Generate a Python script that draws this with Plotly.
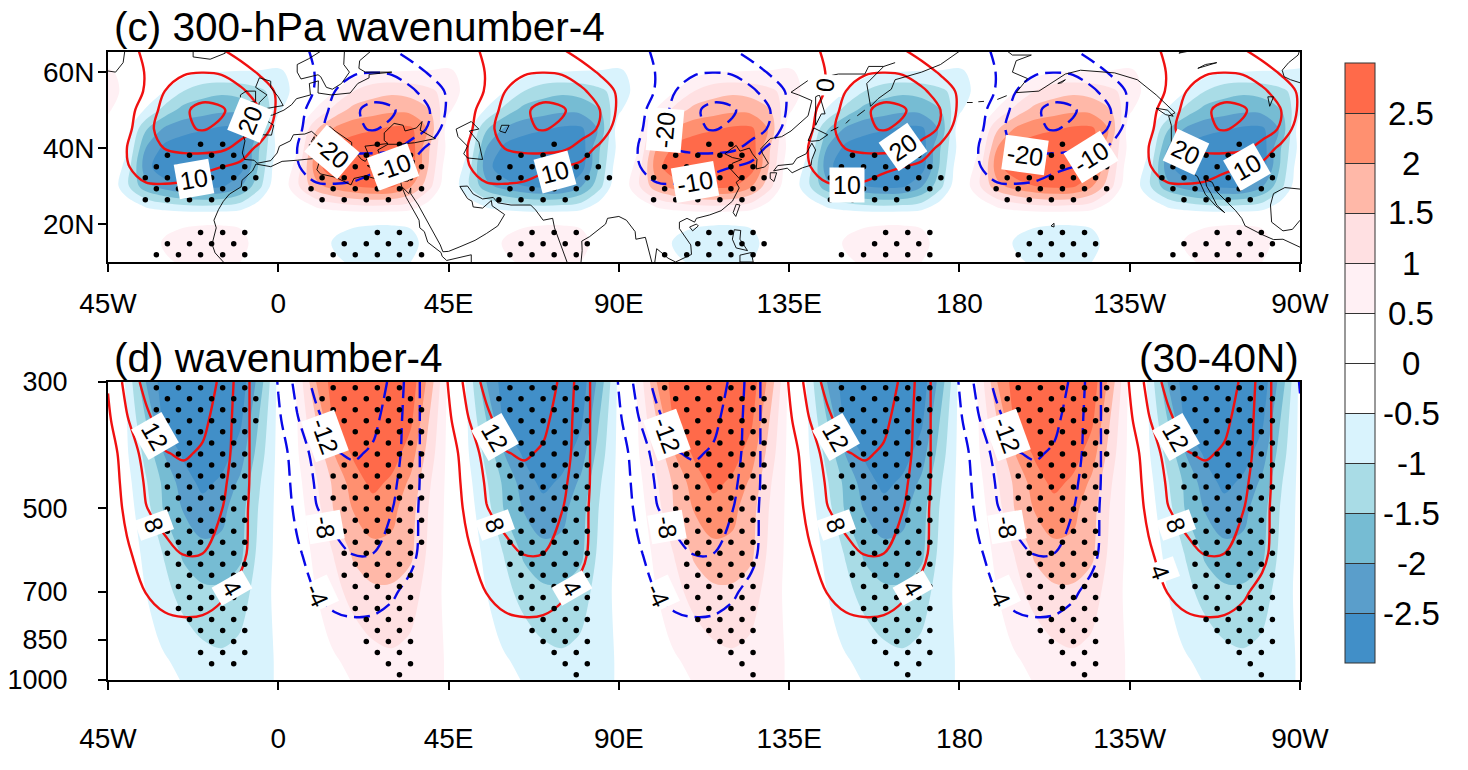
import numpy as np
import plotly.graph_objects as go

# page offset of the browser body and drawing size
OFF = 8
W = 1452
H = 754

# shading / line tables hold one half wave (lon -45..-5), next half wave is the sign flip
half_lons = [-45, -40, -35, -30, -25, -20, -15, -10, -5]
lats = [10, 15, 20, 25, 30, 35, 40, 45, 50, 55, 60, 66]
levs = [300, 350, 400, 450, 500, 600, 700, 850, 925, 1000]
line_levs = [300, 350, 400, 450, 500, 600, 700, 850, 1000]

shade_c = [
    [0, 0, .2, .45, .55, .6, .6, .5, .2],
    [0, .1, .3, .55, .7, .75, .75, .65, .3],
    [0, 0, .2, .4, .45, .48, .48, .45, .2],
    [0, -.2, -.6, -.85, -1.0, -1.05, -1.0, -.85, -.3],
    [0, -.9, -1.85, -2.25, -2.5, -2.65, -2.6, -2.05, -1.15],
    [.1, -.7, -2.3, -2.9, -3, -3, -2.95, -2.75, -1.4],
    [.3, -.45, -2.0, -2.65, -2.9, -3, -3, -2.8, -1.5],
    [.15, -.3, -1.45, -2.1, -2.3, -2.45, -2.6, -2.6, -1.9],
    [.6, 0, -.55, -1.2, -1.7, -1.8, -1.9, -1.85, -1.5],
    [.8, .3, -.2, -.5, -1.0, -1.3, -1.4, -1.3, -1.1],
    [.6, .3, 0, -.1, -.3, -.5, -.52, -.55, -.55],
    [0, 0, .1, .2, .4, .55, .55, .3, .1],
]
lines_c = [
    [0, 0, 0, 0, 0, 0, 0, 0, 0],
    [0, 0, 0, 0, 0, 0, 0, 0, 0],
    [0, 0, 0, 0, 0, 0, 0, 0, 0],
    [0, 0, 0, 0, 0, 0, 0, 0, 0],
    [0, 1, 9.3, 9.5, 9, 6, 2, 0, 0],
    [0, 9.5, 13, 13.5, 13, 12, 10, 7, 2],
    [0, 10, 16, 20.3, 22.5, 23, 22, 17, 7],
    [-3, 7.5, 17, 24, 29, 30.5, 28.5, 24, 19],
    [-8, 6.5, 14.5, 23, 29, 32, 31, 26, 20],
    [-8.5, 4, 11, 20, 25, 27, 26, 22, 15],
    [-3, 5, 10.5, 15, 19, 19.8, 19, 14, 9],
    [0, 7, 12, 14, 14, 13, 10.3, 6, 2],
]
shade_d = [
    [.35, -.6, -2.0, -2.8, -3, -3.1, -3.1, -2.8, -1.8],
    [.35, -.5, -1.5, -2.65, -2.85, -2.95, -2.95, -2.6, -1.45],
    [.35, -.45, -1.15, -2.05, -2.6, -2.85, -2.75, -2.25, -1.25],
    [.35, -.35, -.95, -1.65, -2.25, -2.65, -2.4, -1.9, -1.05],
    [.35, -.3, -.8, -1.58, -2.05, -2.3, -2.15, -1.7, -.95],
    [.35, -.2, -.62, -1.05, -1.6, -1.85, -1.85, -1.6, -.85],
    [.35, -.1, -.5, -.85, -1.2, -1.4, -1.4, -1.25, -.75],
    [.4, 0, -.3, -.6, -.8, -1.0, -1.1, -.95, -.75],
    [.42, 0, -.2, -.45, -.65, -.8, -.85, -.8, -.75],
    [.42, 0, -.05, -.3, -.55, -.7, -.75, -.75, -.75],
]
lines_d = [
    [4.3, 9.3, 13.3, 16, 17, 15, 11, 6.3, 1.5],
    [3.3, 7.7, 11, 14, 15, 13, 10, 6.3, 1.5],
    [2.5, 5.5, 9.5, 11.8, 12.5, 11.5, 9.5, 6.3, 1.5],
    [2, 5.2, 8.4, 10, 10.5, 10, 8.7, 6.2, 1.5],
    [1.6, 4.8, 7.9, 9, 9.5, 9, 8.1, 5.8, 1.3],
    [1, 3.5, 5.5, 7.3, 8.1, 8, 6.8, 5.2, 1.5],
    [.5, 1.8, 4.1, 5.5, 6, 5.8, 4.6, 2.8, .8],
    [0, .5, 1.2, 2, 2.2, 2.1, 1.8, 1, .3],
    [0, .2, .5, .8, 1, 1, .8, .5, .2],
]

band_colors = ['#418fc8', '#5a9ecb', '#76bcd3', '#a9dce6', '#d9f3fd', '#ffffff',
               '#ffffff', '#fff0f4', '#ffe0e2', '#ffb8a8', '#ff9070', '#ff6a4a']
bar_ticks = [-2.5, -2, -1.5, -1, -0.5, 0, 0.5, 1, 1.5, 2, 2.5]
bar_labels = ['-2.5', '-2', '-1.5', '-1', '-0.5', '0', '0.5', '1', '1.5', '2', '2.5']

lon_ticks = [-45, 0, 45, 90, 135, 180, 225, 270]
lon_labels = ['45W', '0', '45E', '90E', '135E', '180', '135W', '90W']
lat_ticks = [20, 40, 60]
lat_labels = ['20N', '40N', '60N']
p_ticks = [300, 500, 700, 850, 1000]
p_labels = ['300', '500', '700', '850', '1000']

# stippling: lattice column runs per row (every second column is a dot)
dots_c = {
    41.0: [(5, 7), (21, 23), (37, 37), (51, 53), (67, 67), (83, 83), (99, 99)],
    38.1: [(2, 8), (20, 24), (34, 40), (48, 54), (64, 70), (82, 84), (94, 102)],
    35.1: [(1, 9), (19, 25), (33, 41), (47, 55), (63, 71), (79, 87), (93, 101)],
    32.2: [(0, 10), (16, 24), (32, 42), (46, 56), (62, 72), (78, 86), (92, 102)],
    29.3: [(1, 9), (15, 25), (33, 39), (47, 55), (63, 71), (77, 87), (93, 101)],
    26.4: [(0, 6), (16, 22), (32, 38), (46, 54), (62, 68), (78, 84), (94, 100)],
    17.8: [(5, 9), (21, 23), (35, 39), (51, 55), (67, 71), (81, 85), (97, 101)],
    14.8: [(2, 8), (18, 24), (34, 40), (50, 56), (66, 70), (80, 86), (94, 102)],
    11.9: [(1, 9), (17, 25), (33, 39), (47, 55), (63, 71), (79, 85), (93, 101)],
}
# panel d: one list per lobe, one (first, last) column run per row from 300 hPa downward
dots_d_blue1 = [(1, 9), (2, 10), (1, 9), (2, 10), (3, 9), (4, 8), (3, 9), (2, 8), (3, 9),
                (2, 8), (3, 9), (2, 8), (3, 9), (2, 8), (3, 9), (2, 8), (3, 9), (4, 8),
                (3, 9), (4, 8), (3, 9), (4, 8), (5, 9), (6, 8), (5, 9), (6, 8)]
dots_d_red1 = [(17, 23), (16, 24), (17, 25), (18, 24), (19, 25), (20, 24), (19, 25), (18, 24),
               (17, 25), (18, 24), (17, 25), (18, 24), (19, 25), (18, 24), (19, 25), (18, 24),
               (19, 23), (18, 24), (19, 23), (20, 24), (19, 23), (20, 24), (21, 23), (20, 24),
               (21, 23), (22, 24), (23, 23)]
dots_d_blue2 = [(33, 39), (32, 40), (33, 39), (34, 40), (35, 39), (34, 40), (35, 39), (32, 40), (33, 39),
                (34, 40), (33, 39), (34, 40), (35, 39), (34, 40), (33, 39), (34, 40), (33, 39), (34, 40),
                (35, 39), (34, 40), (35, 39), (36, 40), (35, 39), (36, 40), (37, 39), (38, 40), (39, 39)]
dots_d_red2 = [(47, 55), (48, 56), (49, 55), (48, 56), (49, 55), (50, 56), (49, 55), (48, 56), (49, 55),
               (48, 56), (49, 55), (48, 54), (49, 55), (50, 54), (49, 55), (50, 54), (49, 55), (50, 54),
               (49, 55), (50, 54), (51, 55), (50, 54), (51, 55), (52, 54), (53, 55), (54, 54), (55, 55)]
dots_d_blue3 = [(63, 71), (64, 70), (63, 71), (64, 70), (65, 71), (64, 70), (65, 71), (64, 70), (63, 71),
                (64, 70), (65, 71), (64, 70), (65, 71), (64, 70), (65, 71), (64, 70), (65, 71), (64, 70),
                (65, 71), (66, 70), (65, 71), (66, 70), (67, 71), (66, 70), (67, 71), (68, 70), (69, 69)]
dots_d_red3 = [(79, 87), (78, 86), (79, 87), (80, 86), (81, 87), (82, 86), (81, 87), (80, 86), (79, 85),
               (80, 86), (79, 85), (80, 86), (81, 85), (80, 86), (81, 85), (80, 86), (81, 85), (80, 86),
               (81, 85), (80, 86), (81, 85), (82, 86), (81, 85), (82, 86), (83, 85), (84, 86), (85, 85)]
dots_d_blue4 = [(93, 101), (94, 102), (95, 101), (96, 102), (95, 101), (96, 102), (95, 101), (94, 102), (95, 101),
                (94, 102), (95, 101), (96, 102), (95, 101), (96, 102), (95, 101), (96, 102), (95, 101), (96, 102),
                (95, 101), (96, 102), (97, 101), (96, 102), (97, 101), (98, 102), (99, 101), (100, 100), (101, 101)]
dots_d = [dots_d_blue1, dots_d_red1, dots_d_blue2, dots_d_red2, dots_d_blue3, dots_d_red3, dots_d_blue4]

# coastlines, read by eye, lon runs -45..270
coast_greenland = [(-45, 60.3), (-43, 60), (-41, 62.5), (-40.5, 66)]
coast_iceland = [(-22.5, 66), (-22.5, 64), (-18, 63.4), (-14, 65), (-14.5, 66)]
coast_africa = [(-14.5, 10), (-16.7, 12.4), (-17.5, 14.7), (-16.4, 19), (-17, 21), (-15.8, 23.8), (-14.5, 26),
                (-12.9, 27.9), (-9.8, 29.8), (-9.6, 31.5), (-6.8, 34), (-5.9, 35.8), (-2, 35.1), (1, 36.5), (5, 36.8),
                (10, 37.3), (11, 36.9), (10.2, 34.3), (11.1, 33.2), (15.2, 32.3), (19.2, 30.3), (20, 32), (23, 32.7),
                (29, 31), (32.3, 31.3), (32.6, 29.9), (33.8, 27), (35.5, 24), (37.2, 21), (37.4, 19), (38.6, 18),
                (39.5, 15.2), (43, 12.5), (43.3, 11.5), (44.5, 10.4), (51, 11.9), (51, 10)]
coast_iberia_north = [(-5.6, 36), (-6.4, 36.8), (-8.9, 37), (-9.5, 38.7), (-8.8, 41.9), (-9.2, 43.1), (-8, 43.7),
                      (-1.8, 43.4), (-1.2, 46), (-4.7, 48.3), (-1.5, 48.7), (1.5, 50), (3.5, 51.4), (4.8, 53), (8.5, 54),
                      (8.2, 57), (10.6, 57.7), (10.5, 54.5), (14, 54), (19, 54.5), (21, 57), (24, 58.5), (24, 59.4),
                      (30, 60), (23, 60), (21.3, 61), (21.5, 63), (25, 66)]
coast_scandinavia = [(17.5, 66), (17.3, 62), (18.8, 60), (16.7, 57), (14.3, 55.5), (12.7, 56), (11.2, 58.8), (10.5, 59.3),
                     (6, 58.2), (5, 60), (5, 62), (8, 63.5), (12, 66)]
coast_med_north = [(-5.6, 36), (-2, 36.7), (-0.3, 38.7), (0.3, 40.5), (3.2, 41.9), (4, 43.5), (7, 43.7), (8.8, 44.4),
                   (10.5, 42.9), (12.3, 41.7), (15.6, 40), (16, 38), (17, 39), (16.5, 40), (18.4, 40), (16, 41.8),
                   (13.5, 43.6), (12.4, 45.3), (13.7, 45.6), (15, 44.5), (19.4, 41.5), (19.4, 40), (22, 37), (23, 36.5),
                   (24, 38), (22.9, 40.5), (26, 40.8), (29, 41.2), (28, 42), (28, 44), (30.6, 46.5), (33, 46), (33.5, 44.5),
                   (36.5, 45.3), (38, 47), (37.5, 44.7), (41.5, 42.5), (36, 41.4), (31.5, 41), (29, 41), (26.3, 39.5),
                   (27.3, 37), (30.5, 36.5), (36, 36.7), (35.8, 35), (35, 32.5), (34.3, 31.3), (32.3, 31.3)]
coast_arabia_india = [(32.6, 29.9), (34.5, 28), (35, 29.5), (35, 28), (37, 25), (39, 21.5), (41, 18), (42.8, 14.5), (43.5, 12.7),
                      (45, 12.8), (48, 14), (52, 15.7), (55, 17.5), (58, 19.5), (59.8, 22.5), (56.5, 24.8), (56.3, 26.2),
                      (54, 24.2), (51.5, 24.5), (51.2, 26), (50, 26.7), (48, 29.9), (50, 30), (51.5, 27.9), (54, 26.6),
                      (56.8, 27), (58, 25.6), (61.5, 25), (66.7, 25), (68, 23.7), (70, 21), (72.5, 21.5), (73, 19),
                      (74.8, 14), (76.3, 10)]
coast_bengal = [(80, 10), (80.3, 13), (80.2, 15.5), (82.3, 16.7), (86.5, 20), (87, 21.5), (90, 22), (92, 21), (94.3, 18),
                (94.5, 16), (97, 16.5), (97.7, 14), (98.7, 10)]
coast_east_asia = [(99.5, 10), (100, 13.5), (101, 12.7), (103, 11), (105, 10), (109.2, 12), (109, 14.5), (106, 18.8),
                   (106, 20.5), (108, 21.5), (110, 20.5), (110.5, 21.5), (114, 22.4), (117, 23.5), (120, 26), (121.8, 29.5),
                   (121, 31), (122, 31.8), (119.5, 34.5), (120, 36), (122.5, 37), (120, 37.5), (118, 38.5), (121, 40.7),
                   (122, 39.2), (124.5, 40), (125.3, 38.5), (126.5, 37), (126.3, 34.5), (128.5, 35), (129.5, 36),
                   (128, 38.5), (127.5, 39.8), (130, 42.5), (133, 43), (135.5, 44.5), (140, 48.5), (141, 52.5),
                   (137.5, 54), (135.5, 54.7), (140, 57.8), (148, 59.5), (155, 59.5), (156, 61.5), (160, 61.5), (163, 62.5)]
coast_kamchatka = [(160, 61.5), (155.5, 57), (156.5, 51), (158.5, 53), (162, 55.5), (163, 58), (170, 60), (175, 62), (180, 65.5), (183, 66)]
coast_honshu = [(130.9, 34), (132, 35.4), (136, 35.8), (137, 37.3), (139.5, 38.5), (141, 41.3), (142, 39.5), (141, 37),
                (140.8, 35.5), (138.5, 34.8), (135.8, 33.5), (134.5, 34.7), (130.9, 34)]
coast_kyushu = [(130, 33.5), (131.7, 33.5), (131, 31.2), (130, 32), (130, 33.5)]
coast_hokkaido = [(140, 42), (141.5, 45.3), (145.2, 43.5), (143, 42), (141, 41.8), (140, 42)]
coast_sakhalin = [(142, 46), (143.5, 49), (144.5, 49), (143, 54), (142, 53.5), (142, 46)]
coast_taiwan = [(120.2, 23), (121, 25.2), (122, 25), (120.9, 22), (120.2, 23)]
coast_hainan = [(108.7, 19.2), (110.5, 20), (111, 19.5), (109.5, 18.2), (108.7, 19.2)]
coast_luzon = [(120.5, 18.5), (122.2, 18.3), (122, 16), (124, 13), (121, 13.7), (120, 16), (120.5, 18.5)]
coast_visayas = [(122, 11.8), (125, 12.5), (125.5, 10), (122, 10), (122, 11.8)]
coast_britain = [(-5.5, 50), (1.3, 51.2), (0, 53.5), (-2, 56), (-2, 57.6), (-5, 58.5), (-6, 56), (-3, 54), (-5, 52), (-5.5, 50)]
coast_ireland = [(-10, 52), (-6, 52.2), (-6, 55), (-8.5, 55), (-10, 54), (-10, 52)]
coast_sardinia = [(8.3, 39), (9.7, 39.2), (9.6, 41), (8.2, 40.9), (8.3, 39)]
coast_sicily = [(12.5, 38), (15.6, 38.2), (15, 36.7), (12.5, 38)]
coast_corsica = [(8.7, 41.7), (9.4, 41.4), (9.5, 43), (8.7, 41.7)]
coast_crete = [(23.5, 35.4), (26.3, 35.2), (24, 35), (23.5, 35.4)]
coast_cyprus = [(32.5, 35), (34.5, 35.5), (33, 34.6), (32.5, 35)]
coast_caspian = [(47, 45), (51, 47), (53, 45), (50.5, 44.5), (53, 41.5), (54, 37), (50, 37.4), (49, 38.5), (50, 40.5), (47.5, 43), (47, 45)]
coast_aral = [(59, 46), (61, 46), (60, 44), (58.5, 44.5), (59, 46)]
coast_pacific_na = [(270, 13.9), (265.5, 16), (263, 15.9), (260, 17.2), (255.5, 19.5), (254.6, 21.5), (253, 23.5), (250.5, 26),
                    (248, 28.5), (246.8, 31), (245, 31.7), (245.3, 30), (246.5, 28), (248, 25), (250.1, 23), (247.8, 24.7),
                    (245, 27.8), (244, 30), (242.9, 32.5), (240, 34.5), (238, 37.5), (236, 40.3), (236, 46), (235.3, 48.4),
                    (237, 49.3), (232, 54), (227, 58), (221, 59.8), (212, 60.5), (208, 59.5), (201, 55), (195, 54.6),
                    (198, 58.3), (194, 60), (195, 63), (199, 64.5), (194, 64.5), (192, 66)]
coast_vancouver = [(236.5, 48.4), (234.5, 48.8), (232, 50.5), (235, 50), (236.5, 48.4)]
coast_gulf = [(270, 29.2), (266, 29.6), (263, 28), (262.2, 25), (262.5, 20.5), (265.5, 18.2), (268, 18.6), (270, 21)]
coast_hudson = [(270, 57.2), (267.5, 58), (265.8, 58.8), (265.3, 60.5), (267, 62.5), (269.5, 64.5), (270, 66)]
coast_hawaii = [(204.2, 19.5), (205, 20.2), (205, 19.2), (204.2, 19.5)]
coast_winnipeg = [(262, 51), (263, 53.5), (261.5, 53.5), (262, 51)]
coast_slave = [(243, 61), (248, 62.5), (245, 62), (243, 61)]
coast_bear = [(238, 65), (243, 66), (240, 66), (238, 65)]
coast_aleut1 = [(182, 52), (183.5, 52)]
coast_aleut2 = [(185, 52.2), (186.5, 52.3)]
coast_aleut3 = [(190, 52.8), (192.5, 53.8)]
coast_kodiak = [(206, 57), (208, 58), (207, 57.2), (206, 57)]
coast_kuril1 = [(146, 44.5), (148, 45.5)]
coast_kuril2 = [(150, 46.5), (151, 47.5)]
coast_kuril3 = [(153, 48.5), (155, 50)]

coasts = [coast_greenland, coast_iceland, coast_africa, coast_iberia_north, coast_scandinavia, coast_med_north,
          coast_arabia_india, coast_bengal, coast_east_asia, coast_kamchatka, coast_honshu, coast_kyushu, coast_hokkaido,
          coast_sakhalin, coast_taiwan, coast_hainan, coast_luzon, coast_visayas, coast_britain, coast_ireland,
          coast_sardinia, coast_sicily, coast_corsica, coast_crete, coast_cyprus, coast_caspian, coast_aral,
          coast_pacific_na, coast_vancouver, coast_gulf, coast_hudson, coast_hawaii, coast_winnipeg, coast_slave,
          coast_bear, coast_aleut1, coast_aleut2, coast_aleut3, coast_kodiak, coast_kuril1, coast_kuril2, coast_kuril3]

# contour labels: picture x, picture y, text, angle
labels_c = [(250, 120, '20', -68), (194, 179, '10', -10), (332, 152, '-20', 40), (393, 167, '-10', -20),
            (555, 172, '10', -15), (665, 130, '-20', -85), (695, 182, '-10', -10), (825, 85, '0', -85),
            (847, 185, '10', 0), (903, 147, '20', -35), (1025, 155, '-20', 8), (1091, 157, '-10', -32),
            (1186, 152, '20', 25), (1247, 167, '10', -30)]
labels_d = [(155, 436, '12', 60), (154, 525, '8', 70), (232, 588, '4', 60), (325, 436, '-12', 70),
            (325, 527, '-8', 80), (317, 595, '-4', 65), (495, 437, '12', 60), (495, 525, '8', 70),
            (572, 588, '4', 60), (667, 435, '-12', 70), (667, 527, '-8', 80), (658, 595, '-4', 65),
            (836, 437, '12', 60), (836, 525, '8', 70), (913, 588, '4', 60), (1007, 435, '-12', 70),
            (1007, 527, '-8', 80), (999, 595, '-4', 65), (1176, 437, '12', 60), (1176, 525, '8', 70),
            (1160, 572, '4', 70)]


def px(x):
    return (x - OFF) / W


def py(y):
    return 1 - (y - OFF) / H


lons = np.arange(-45, 271, 5)


def full_wave(table):
    half = np.array(table, dtype=float)
    out = []
    for i in range(len(lons)):
        sign = -1 if (i // 9) % 2 else 1
        out.append(sign * half[:, i % 9])
    return np.array(out).T


scale = []
for i, c in enumerate(band_colors):
    scale.append([i / 12, c])
    scale.append([(i + 1) / 12, c])


def shading(z, y, xaxis, yaxis, with_bar):
    return go.Contour(
        x=lons, y=y, z=z, xaxis=xaxis, yaxis=yaxis, zmin=-3, zmax=3, colorscale=scale,
        contours=dict(start=-2.5, end=2.5, size=0.5, coloring='fill', showlines=False),
        line=dict(width=0, smoothing=1), hoverinfo='skip', showscale=with_bar,
        colorbar=dict(x=px(1345), xanchor='left', y=py(63), yanchor='top', thickness=30, thicknessmode='pixels',
                      len=600, lenmode='pixels', xpad=0, ypad=0, outlinewidth=1, outlinecolor='#333333',
                      tickvals=bar_ticks, ticks='inside', ticklen=30, tickwidth=1, tickcolor='#333333',
                      showticklabels=False))


def contour_lines(z, y, xaxis, yaxis, start, end, size, color, dash):
    return go.Contour(
        x=lons, y=y, z=z, xaxis=xaxis, yaxis=yaxis, showscale=False, hoverinfo='skip',
        contours=dict(start=start, end=end, size=size, coloring='none'),
        line=dict(color=color, width=2.4, dash=dash, smoothing=1))


fig = go.Figure()

# (c) 300 hPa map
z_c = full_wave(shade_c)
l_c = full_wave(lines_c)
fig.add_trace(shading(z_c, lats, 'x', 'y', True))

coast_x, coast_y = [], []
for seg in coasts:
    coast_x += [p[0] for p in seg] + [None]
    coast_y += [p[1] for p in seg] + [None]
fig.add_trace(go.Scatter(x=coast_x, y=coast_y, mode='lines', xaxis='x', yaxis='y', hoverinfo='skip',
                         line=dict(color='black', width=0.9)))

fig.add_trace(contour_lines(l_c, lats, 'x', 'y', 10, 30, 10, '#f01010', 'solid'))
fig.add_trace(contour_lines(l_c, lats, 'x', 'y', -30, -10, 10, '#0808e8', '16px,7px'))

lon0 = -35.14
dk = 2.92
dot_x, dot_y = [], []
for lat, runs in dots_c.items():
    for k0, k1 in runs:
        for k in range(k0, k1 + 1, 2):
            dot_x.append(lon0 + dk * k)
            dot_y.append(lat)
fig.add_trace(go.Scatter(x=dot_x, y=dot_y, mode='markers', xaxis='x', yaxis='y', hoverinfo='skip',
                         marker=dict(color='black', size=5.5)))

# (d) section
z_d = full_wave(shade_d)
l_d = full_wave(lines_d)
fig.add_trace(shading(z_d, levs, 'x2', 'y2', False))
fig.add_trace(contour_lines(l_d, line_levs, 'x2', 'y2', 4, 12, 4, '#f01010', 'solid'))
fig.add_trace(contour_lines(l_d, line_levs, 'x2', 'y2', -12, -4, 4, '#0808e8', '16px,7px'))

dot_x, dot_y = [], []
for lobe in dots_d:
    for j, (k0, k1) in enumerate(lobe):
        p = 300 * 10 ** ((5.7 + 11.04 * j) / 570)
        for k in range(k0, k1 + 1, 2):
            dot_x.append(lon0 + dk * k)
            dot_y.append(p)
fig.add_trace(go.Scatter(x=dot_x, y=dot_y, mode='markers', xaxis='x2', yaxis='y2', hoverinfo='skip',
                         marker=dict(color='black', size=5.5)))

annots = []
for x, y, text, angle in labels_c + labels_d:
    annots.append(dict(x=px(x), y=py(y), xref='paper', yref='paper', text=text, textangle=angle, showarrow=False,
                       xanchor='center', yanchor='middle', bgcolor='white', borderpad=3,
                       font=dict(size=25, color='black')))
for i, text in enumerate(bar_labels):
    annots.append(dict(x=px(1411), y=py(613 - 50 * i), xref='paper', yref='paper', text=text, showarrow=False,
                       xanchor='center', yanchor='middle', font=dict(size=33, color='black')))
annots.append(dict(x=px(112), y=py(27), xref='paper', yref='paper', text='(c) 300-hPa wavenumber-4', showarrow=False,
                   xanchor='left', yanchor='middle', font=dict(size=40.5, color='black')))
annots.append(dict(x=px(112), y=py(358), xref='paper', yref='paper', text='(d) wavenumber-4', showarrow=False,
                   xanchor='left', yanchor='middle', font=dict(size=40.5, color='black')))
annots.append(dict(x=px(1301), y=py(358), xref='paper', yref='paper', text='(30-40N)', showarrow=False,
                   xanchor='right', yanchor='middle', font=dict(size=40.5, color='black')))

axis_style = dict(showline=True, linecolor='black', linewidth=2, mirror=True, ticks='outside', ticklen=8, tickwidth=2,
                  tickcolor='black', showgrid=False, zeroline=False, tickfont=dict(size=28, color='black'))
axis_style_p = dict(axis_style, tickfont=dict(size=27, color='black'))

fig.update_layout(
    width=W, height=H, margin=dict(l=0, r=0, t=0, b=0, autoexpand=False), showlegend=False, paper_bgcolor='white',
    plot_bgcolor='white', font=dict(family='Liberation Sans'), annotations=annots,
    xaxis=dict(domain=[px(108), px(1300)], range=[-45, 270], anchor='y', tickvals=lon_ticks, ticktext=lon_labels,
               ticklabelstandoff=7, **axis_style),
    yaxis=dict(domain=[py(262), py(52)], range=[10, 65.3], anchor='x', tickvals=lat_ticks, ticktext=lat_labels,
               ticklabelstandoff=-2, **axis_style),
    xaxis2=dict(domain=[px(108), px(1300)], range=[-45, 270], anchor='y2', tickvals=lon_ticks, ticktext=lon_labels,
                ticklabelstandoff=24, **axis_style),
    yaxis2=dict(domain=[py(680), py(382)], type='log', range=[3, np.log10(300)], anchor='x2', tickvals=p_ticks,
                ticktext=p_labels, ticklabelstandoff=25, **axis_style_p),
)

fig.write_html("out.html")
